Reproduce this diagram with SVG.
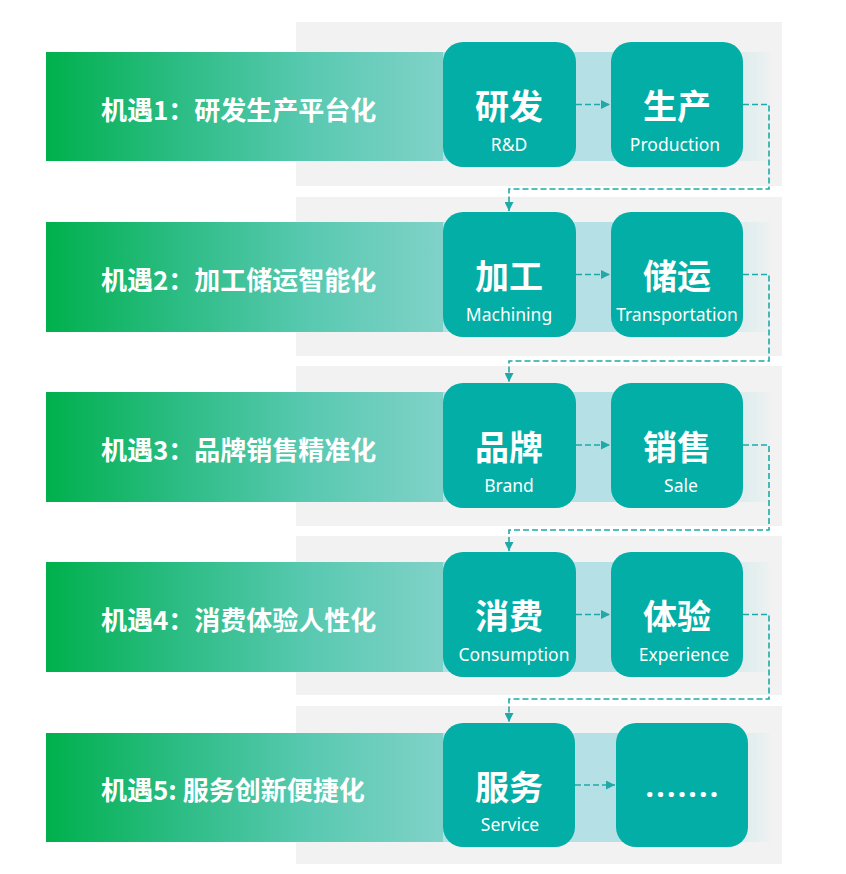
<svg xmlns="http://www.w3.org/2000/svg" width="846" height="874" viewBox="0 0 846 874">
<style>
.panel{fill:#f2f2f2}
.bar{fill:url(#barGrad)}
.box{fill:#02aea6}
.lbl{font-family:"Noto Sans CJK SC","Noto Sans",sans-serif;font-weight:bold;font-size:26px;fill:#ffffff}
.cn{font-family:"Noto Sans CJK SC","Noto Sans",sans-serif;font-weight:bold;font-size:34px;fill:#ffffff;text-anchor:middle}
.en{font-family:"Noto Sans","Noto Sans CJK SC",sans-serif;font-size:17.5px;fill:#ffffff;text-anchor:middle}
.dots{font-family:"Noto Sans",sans-serif;font-weight:bold;font-size:30px;fill:#ffffff;text-anchor:middle;letter-spacing:2.3px}
.conn{fill:none;stroke:#1eaaa8;stroke-width:1.6;stroke-dasharray:6 3}
</style>
<defs>
<linearGradient id="barGrad" x1="0" y1="0" x2="1" y2="0">
<stop offset="0" stop-color="#00b04c"/>
<stop offset="0.18" stop-color="#2bbc83"/>
<stop offset="0.36" stop-color="#58c9b0"/>
<stop offset="0.548" stop-color="#80d2c8"/>
<stop offset="0.549" stop-color="#b4e0e5"/>
<stop offset="0.86" stop-color="#b6e0e5"/>
<stop offset="1" stop-color="#edf1f1"/>
</linearGradient>
<marker id="arr" viewBox="0 0 9 9" refX="9" refY="4.5" markerWidth="9" markerHeight="9" markerUnits="userSpaceOnUse" orient="auto">
<path d="M0,0 L9,4.5 L0,9 z" fill="#1eaaa8"/>
</marker>
</defs>
<rect width="846" height="874" fill="#ffffff"/>

<g id="row1">
<rect class="panel" x="296" y="22" width="486" height="164"/>
<rect class="bar" x="46" y="52" width="724" height="109"/>
<text class="lbl" x="101" y="120">机遇1：研发生产平台化</text>
</g>
<g id="node-rd">
<rect class="box" x="443" y="42" width="133" height="125" rx="20"/>
<text class="cn" x="509" y="119">研发</text>
<text class="en" x="509" y="151">R&amp;D</text>
</g>
<g id="node-production">
<rect class="box" x="611" y="42" width="132" height="125" rx="20"/>
<text class="cn" x="677" y="119">生产</text>
<text class="en" x="675" y="151">Production</text>
</g>

<g id="row2">
<rect class="panel" x="296" y="197" width="486" height="159"/>
<rect class="bar" x="46" y="222" width="724" height="110"/>
<text class="lbl" x="101" y="290">机遇2：加工储运智能化</text>
</g>
<g id="node-machining">
<rect class="box" x="443" y="212" width="133" height="125" rx="20"/>
<text class="cn" x="509" y="289">加工</text>
<text class="en" x="509" y="321">Machining</text>
</g>
<g id="node-transportation">
<rect class="box" x="611" y="212" width="132" height="125" rx="20"/>
<text class="cn" x="677" y="289">储运</text>
<text class="en" x="677" y="321">Transportation</text>
</g>

<g id="row3">
<rect class="panel" x="296" y="366" width="486" height="160"/>
<rect class="bar" x="46" y="392" width="724" height="110"/>
<text class="lbl" x="101" y="460">机遇3：品牌销售精准化</text>
</g>
<g id="node-brand">
<rect class="box" x="443" y="383" width="133" height="125" rx="20"/>
<text class="cn" x="509" y="460">品牌</text>
<text class="en" x="509" y="492">Brand</text>
</g>
<g id="node-sale">
<rect class="box" x="611" y="383" width="132" height="125" rx="20"/>
<text class="cn" x="677" y="460">销售</text>
<text class="en" x="681" y="492">Sale</text>
</g>

<g id="row4">
<rect class="panel" x="296" y="536" width="486" height="159"/>
<rect class="bar" x="46" y="562" width="724" height="110"/>
<text class="lbl" x="101" y="630">机遇4：消费体验人性化</text>
</g>
<g id="node-consumption">
<rect class="box" x="443" y="552" width="133" height="125" rx="20"/>
<text class="cn" x="509" y="629">消费</text>
<text class="en" x="514" y="661">Consumption</text>
</g>
<g id="node-experience">
<rect class="box" x="611" y="552" width="132" height="125" rx="20"/>
<text class="cn" x="677" y="629">体验</text>
<text class="en" x="684" y="661">Experience</text>
</g>

<g id="row5">
<rect class="panel" x="296" y="706" width="486" height="158"/>
<rect class="bar" x="46" y="733" width="724" height="109"/>
<text class="lbl" x="101" y="800">机遇5: 服务创新便捷化</text>
</g>
<g id="node-service">
<rect class="box" x="443" y="723" width="132" height="124" rx="20"/>
<text class="cn" x="509" y="800">服务</text>
<text class="en" x="510" y="831">Service</text>
</g>
<g id="node-more">
<rect class="box" x="616" y="723" width="132" height="124" rx="20"/>
<text class="dots" x="683" y="797">.......</text>
</g>

<g id="connectors">
<path class="conn" d="M576,104.5 H610" marker-end="url(#arr)"/>
<path class="conn" d="M743,104.5 H769 V189 H509 V211" marker-end="url(#arr)"/>
<path class="conn" d="M576,274.5 H610" marker-end="url(#arr)"/>
<path class="conn" d="M743,274.5 H769 V361 H509 V382" marker-end="url(#arr)"/>
<path class="conn" d="M576,445 H610" marker-end="url(#arr)"/>
<path class="conn" d="M743,445 H769 V530 H509 V551" marker-end="url(#arr)"/>
<path class="conn" d="M576,614.5 H610" marker-end="url(#arr)"/>
<path class="conn" d="M743,614.5 H769 V699 H509 V722" marker-end="url(#arr)"/>
<path class="conn" d="M575,785 H615" marker-end="url(#arr)"/>
</g>
</svg>
